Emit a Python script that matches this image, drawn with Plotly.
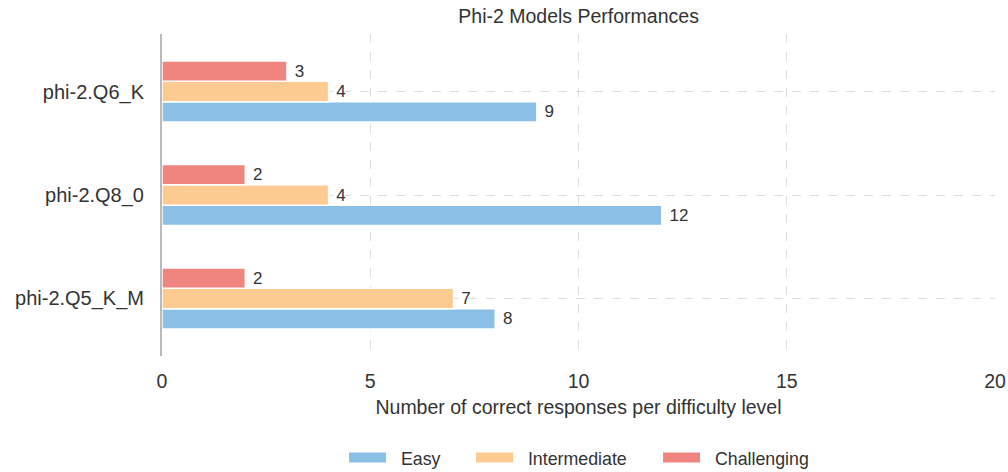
import plotly.graph_objects as go

models = ["phi-2.Q5_K_M", "phi-2.Q8_0", "phi-2.Q6_K"]
easy = [8, 12, 9]
intermediate = [7, 4, 4]
challenging = [2, 2, 3]
series_names = ["Easy", "Intermediate", "Challenging"]
colors = ["#8BC0E6", "#FDCB92", "#F08580"]
x_ticks = [0, 5, 10, 15, 20]

fig = go.Figure()
for name, vals, col in zip(series_names, [easy, intermediate, challenging], colors):
    fig.add_trace(go.Bar(
        y=models, x=vals, name=name, orientation="h", showlegend=False,
        marker=dict(color=col, line=dict(color="white", width=1.5)),
        text=[" " + str(v) for v in vals], textposition="outside",
        textfont=dict(size=17, color="#333333"), cliponaxis=False,
    ))
# legend entries drawn as wide swatches, one legend per entry
legend_ids = ["legend", "legend2", "legend3"]
legend_x = [0.3413, 0.4673, 0.6528]
for name, col, lid in zip(series_names, colors, legend_ids):
    fig.add_trace(go.Scatter(
        x=[None], y=[None], mode="lines", name="\u00a0\u00a0" + name, legend=lid,
        line=dict(color=col, width=11),
    ))

font = "Liberation Sans, Arial, sans-serif"
leg_common = dict(orientation="h", xanchor="left", xref="container", yref="container",
                  y=0.0297, yanchor="middle", itemwidth=37,
                  font=dict(size=17.8, color="#333333"), bgcolor="rgba(0,0,0,0)")
fig.update_layout(
    width=1008, height=472,
    margin=dict(l=162, r=13, t=34, b=116, autoexpand=False),
    paper_bgcolor="white", plot_bgcolor="white",
    barmode="group", bargap=0.41, bargroupgap=0.0,
    font=dict(family=font, color="#333333"),
    title=dict(text="Phi-2 Models Performances", x=0.574, xanchor="center",
               y=0.966, yanchor="middle", font=dict(size=19.5, color="#333333")),
    legend=dict(x=legend_x[0], **leg_common),
    legend2=dict(x=legend_x[1], **leg_common),
    legend3=dict(x=legend_x[2], **leg_common),
    xaxis=dict(range=[0, 20], tickvals=x_ticks, showgrid=True, gridcolor="#dddddd",
               griddash="dash", gridwidth=1, zeroline=False, showline=False,
               ticks="outside", ticklen=8, tickcolor="rgba(0,0,0,0)",
               tickfont=dict(size=19.5, color="#333333"), automargin=False,
               title=dict(text="Number of correct responses per difficulty level",
                          font=dict(size=19.5, color="#333333"), standoff=8)),
    yaxis=dict(range=[-0.556, 2.556], showgrid=True, gridcolor="#dddddd", griddash="dash",
               gridwidth=1, zeroline=False, showline=True, linecolor="#bbbbbb", linewidth=2,
               ticks="outside", ticklen=12, tickcolor="rgba(0,0,0,0)", automargin=False,
               tickfont=dict(size=20, color="#333333")),
)
fig.write_html("out.html", config={"displayModeBar": False},
               post_script="document.body.style.margin='0';")
